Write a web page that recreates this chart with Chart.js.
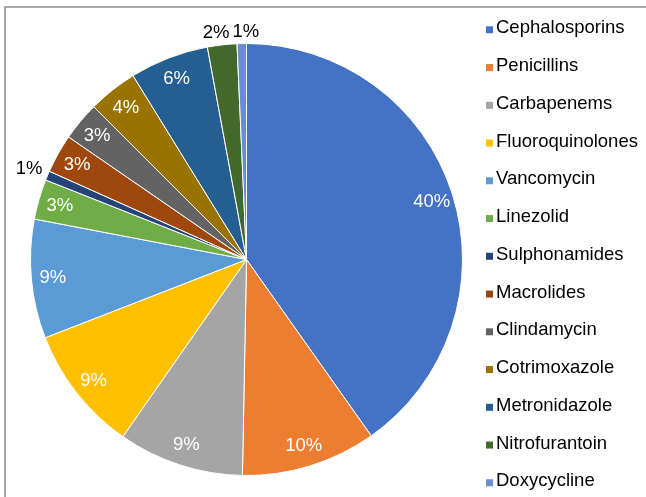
<!DOCTYPE html>
<html>
<head>
<meta charset="utf-8">
<script src="https://cdn.jsdelivr.net/npm/chart.js@4.4.0/dist/chart.umd.min.js"></script>
<style>
  html, body { margin: 0; padding: 0; background: #fff; }
  canvas { display: block; }
</style>
</head>
<body>
<canvas id="pie" width="646" height="497"></canvas>
<script>
// antibiotic classes, share of prescriptions (%)
var categories = ["Cephalosporins", "Penicillins", "Carbapenems", "Fluoroquinolones", "Vancomycin",
    "Linezolid", "Sulphonamides", "Macrolides", "Clindamycin", "Cotrimoxazole",
    "Metronidazole", "Nitrofurantoin", "Doxycycline"];
var shares = [40.2, 10.1, 9.4, 9.4, 8.9, 3.0, 0.7, 2.9, 2.9, 3.7, 5.9, 2.2, 0.7];
var sliceColors = ["#4472C4", "#ED7D31", "#A5A5A5", "#FFC000", "#5B9BD5", "#70AD47", "#264478",
    "#9E480E", "#636363", "#997300", "#255E91", "#43682B", "#698ED0"];

var FONT = '18.5px "Liberation Sans", Arial, sans-serif';

// grey frame on the left and top, like the cropped figure
var framePlugin = {
    id: 'frame',
    beforeDraw: function (chart) {
        var c = chart.ctx;
        c.save();
        c.strokeStyle = '#8c8c8c';
        c.lineWidth = 1.5;
        c.beginPath();
        c.moveTo(5, chart.height);
        c.lineTo(5, 7);
        c.lineTo(chart.width, 7);
        c.stroke();
        c.restore();
    }
};

// percentage labels, inside for big slices, outside for the small ones
var labelPlugin = {
    id: 'sliceLabels',
    afterDatasetsDraw: function (chart) {
        var c = chart.ctx;
        var meta = chart.getDatasetMeta(0);
        var data = chart.data.datasets[0].data;
        var total = data.reduce(function (a, b) { return a + b; }, 0);
        c.save();
        c.font = FONT;
        c.textAlign = 'center';
        c.textBaseline = 'middle';
        var outside = [];
        meta.data.forEach(function (arc, i) {
            var p = arc.getProps(['x', 'y', 'startAngle', 'endAngle', 'outerRadius'], true);
            var mid = (p.startAngle + p.endAngle) / 2;
            var txt = Math.round(data[i] / total * 100) + '%';
            var cx = Math.cos(mid), cy = Math.sin(mid);
            var w = c.measureText(txt).width;
            if (data[i] < 2.5) {
                var r = p.outerRadius + 5 + Math.abs(cx) * w / 2 + Math.abs(cy) * 7;
                outside.push({ txt: txt, x: p.x + cx * r, y: p.y + cy * r + 1, w: w });
            } else {
                var r2 = p.outerRadius * 0.9;
                c.fillStyle = '#fff';
                c.fillText(txt, p.x + cx * r2, p.y + cy * r2 + 1);
            }
        });
        // push neighbouring outside labels apart when they collide
        for (var k = 1; k < outside.length; k++) {
            var a = outside[k - 1], b = outside[k];
            if (Math.abs(a.y - b.y) < 14) {
                var need = (a.w + b.w) / 2 + 3 - Math.abs(a.x - b.x);
                if (need > 0) {
                    var dir = a.x < b.x ? 1 : -1;
                    a.x -= dir * need / 2;
                    b.x += dir * need / 2;
                }
            }
        }
        c.fillStyle = '#000';
        outside.forEach(function (o) { c.fillText(o.txt, o.x, o.y); });
        c.restore();
    }
};

// legend on the right, one row per class
var legendPlugin = {
    id: 'sideLegend',
    afterDraw: function (chart) {
        var c = chart.ctx;
        var colors = chart.data.datasets[0].backgroundColor;
        c.save();
        c.font = FONT;
        c.textBaseline = 'alphabetic';
        c.textAlign = 'left';
        chart.data.labels.forEach(function (lab, i) {
            var base = 33.3 + i * 37.75;
            c.fillStyle = colors[i];
            c.fillRect(486, base - 7, 7, 7);
            c.fillStyle = '#000';
            c.fillText(lab, 496, base);
        });
        c.restore();
    }
};

var chartGraph = new Chart(document.getElementById('pie'), {
    type: 'pie',
    data: {
        labels: categories,
        datasets: [{
            data: shares,
            backgroundColor: sliceColors,
            borderColor: '#ffffff',
            borderWidth: 1,
            hoverOffset: 0
        }]
    },
    options: {
        responsive: false,
        animation: false,
        devicePixelRatio: 1,
        layout: {
            padding: { left: 30, right: 183, top: 43, bottom: 21 }
        },
        plugins: {
            legend: { display: false },
            tooltip: { enabled: false }
        }
    },
    plugins: [framePlugin, labelPlugin, legendPlugin]
});
</script>
</body>
</html>
